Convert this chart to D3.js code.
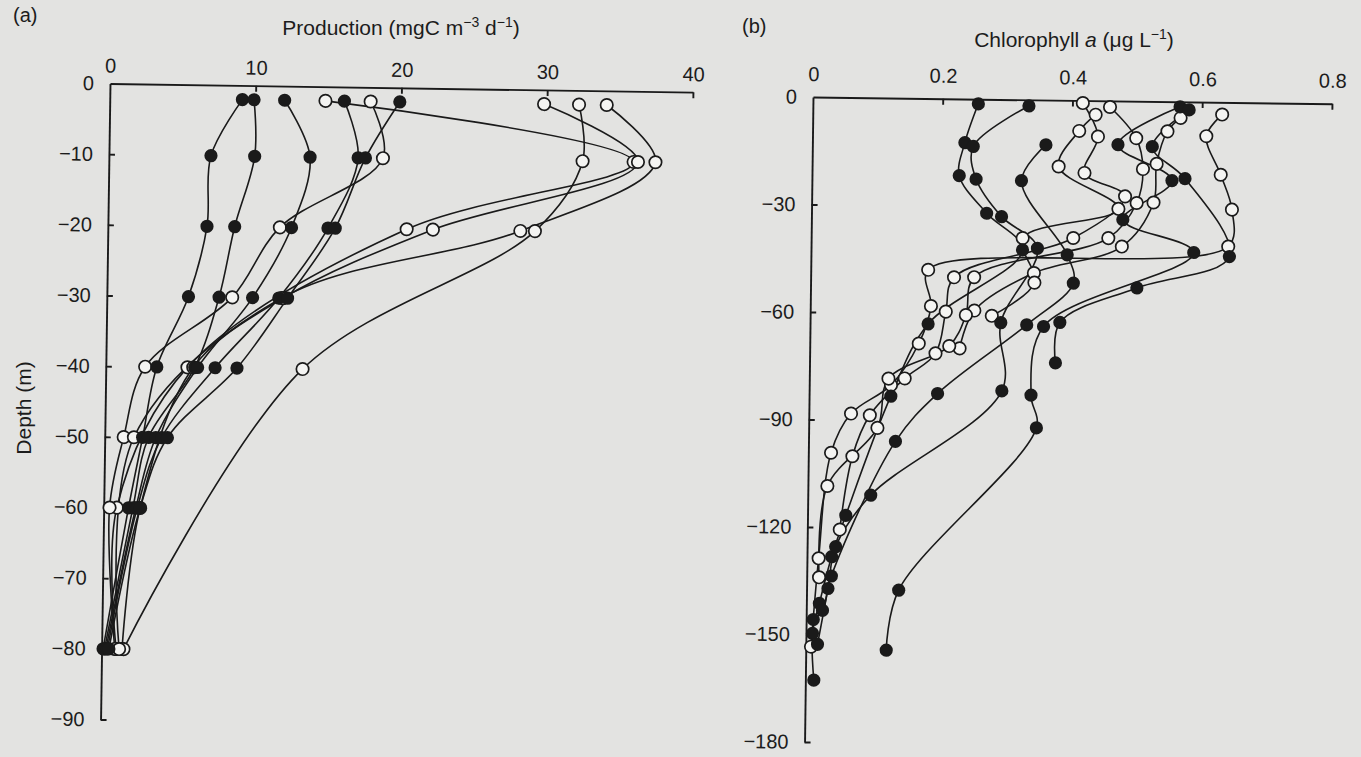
<!DOCTYPE html>
<html>
<head>
<meta charset="utf-8">
<script src="https://cdn.jsdelivr.net/npm/d3@7"></script>
<style>
  body { margin: 0; background: #e3e3e1; }
  svg text { font-family: "Liberation Sans", Arial, Helvetica, sans-serif; fill: #1c1c1c; }
</style>
</head>
<body>
<div id="chart"></div>
<script>
// ---- data: [depth (m), value] ----
// (a) production, mgC m-3 d-1
const prodFilled = [
  [[-2, 9.1], [-10, 7.0], [-20, 6.8], [-30, 5.6], [-40, 3.5], [-50, 2.6], [-60, 1.7], [-80, 0.1]],
  [[-2, 9.9], [-10, 10.0], [-20, 8.7], [-30, 7.7], [-40, 6.1], [-50, 3.0], [-60, 2.0], [-80, 0.2]],
  [[-2, 12.0], [-10, 13.8], [-20, 12.6], [-30, 10.0], [-40, 6.3], [-50, 3.5], [-60, 2.2], [-80, 0.3]],
  [[-2, 16.1], [-10, 17.1], [-20, 15.1], [-30, 11.8], [-40, 7.5], [-50, 3.9], [-60, 2.3], [-80, 0.4]],
  [[-2, 19.9], [-10, 17.6], [-20, 15.6], [-30, 12.4], [-40, 9.0], [-50, 4.3], [-60, 2.5], [-80, 0.5]]
];
const prodOpen = [
  [[-2, 14.8], [-10, 36.0], [-20, 20.5], [-40, 5.6], [-60, 0.9], [-80, 1.0]],
  [[-2, 17.9], [-10, 18.8], [-20, 11.8], [-30, 8.6], [-40, 2.7], [-50, 1.3], [-60, 0.4], [-80, 0.9]],
  [[-2, 29.8], [-10, 36.3], [-20, 22.3], [-30, 12.1], [-40, 6.0], [-60, 2.5], [-80, 1.4]],
  [[-2, 32.2], [-10, 32.5], [-20, 29.3], [-40, 13.5], [-80, 1.5]],
  [[-2, 34.1], [-10, 37.5], [-20, 28.3], [-30, 12.0], [-50, 2.0], [-80, 1.2]]
];
const prodTicks = [0, 10, 20, 30, 40];
const prodDepthTicks = [0, -10, -20, -30, -40, -50, -60, -70, -80, -90];

// (b) chlorophyll a, ug L-1
const chlFilled = [
  [[-1.3, 0.255], [-12.2, 0.235], [-21.4, 0.227], [-31.8, 0.270], [-41.9, 0.326], [-62.9, 0.182], [-83.2, 0.126], [-116.6, 0.059], [-128.2, 0.038], [-141.3, 0.020], [-149.7, 0.010], [-162.7, 0.013]],
  [[-1.7, 0.333], [-13.2, 0.248], [-22.3, 0.253], [-32.7, 0.293], [-41.4, 0.349], [-62.3, 0.294], [-81.3, 0.297], [-110.9, 0.097], [-125.4, 0.044], [-137.1, 0.033], [-152.7, 0.018]],
  [[-12.5, 0.360], [-22.6, 0.323], [-43.1, 0.395], [-51.0, 0.405], [-62.8, 0.334], [-82.3, 0.198], [-95.8, 0.134], [-133.6, 0.038], [-143.2, 0.025], [-145.8, 0.011]],
  [[-1.4, 0.566], [-12.2, 0.471], [-22.0, 0.555], [-33.1, 0.480], [-42.0, 0.590], [-63.2, 0.360], [-82.4, 0.342], [-91.5, 0.351], [-137.3, 0.142], [-154.1, 0.124]],
  [[-2.2, 0.580], [-12.6, 0.524], [-21.4, 0.575], [-43.0, 0.645], [-52.1, 0.503], [-62.0, 0.385], [-73.3, 0.379]]
];
const chlOpen = [
  [[-3.4, 0.631], [-9.5, 0.607], [-20.2, 0.630], [-29.9, 0.648], [-40.2, 0.643], [-47.8, 0.181], [-57.9, 0.186], [-68.4, 0.168], [-80.1, 0.126], [-88.2, 0.065], [-99.2, 0.035], [-128.7, 0.018], [-153.4, 0.008]],
  [[-4.5, 0.567], [-8.3, 0.547], [-17.4, 0.531], [-28.2, 0.527], [-40.6, 0.479], [-48.3, 0.344], [-59.0, 0.253], [-69.6, 0.231]],
  [[-1.7, 0.458], [-10.3, 0.499], [-18.9, 0.510], [-28.4, 0.501], [-38.3, 0.458], [-49.7, 0.252], [-60.3, 0.240], [-69.0, 0.215], [-78.3, 0.122], [-92.1, 0.106], [-108.5, 0.030], [-134.0, 0.019]],
  [[-0.7, 0.416], [-10.0, 0.440], [-20.2, 0.420], [-26.6, 0.483], [-38.4, 0.404], [-49.8, 0.221], [-59.4, 0.209], [-71.1, 0.194], [-78.2, 0.147], [-88.6, 0.094], [-100.1, 0.068], [-120.6, 0.050]],
  [[-3.9, 0.436], [-8.5, 0.411], [-18.5, 0.380], [-30.1, 0.473], [-38.6, 0.326], [-51.0, 0.345], [-60.4, 0.280]]
];
const chlTicks = [0, 0.2, 0.4, 0.6, 0.8];
const chlDepthTicks = [0, -30, -60, -90, -120, -150, -180];

const W = 1361, H = 757;
const ink = '#1a1a1a';

const svg = d3.select('#chart')
  .append('svg')
  .attr('width', W)
  .attr('height', H)

function drawPanel(o) {
  const g = svg.append('g')
    .attr('transform', `translate(${o.ox},${o.oy}) rotate(${o.angle})`)

  const x = d3.scaleLinear().domain([0, o.xMax]).range([0, o.w])
  const y = d3.scaleLinear().domain([0, o.yMin]).range([0, o.h])

  const xAxis = g.append('g')
    .call(d3.axisTop(x).tickValues(o.xTicks).tickSizeInner(-6).tickSizeOuter(0)
      .tickPadding(o.xPad).tickFormat(o.xFmt))
  const yAxis = g.append('g')
    .call(d3.axisLeft(y).tickValues(o.yTicks).tickSizeInner(-6).tickSizeOuter(0)
      .tickPadding(16).tickFormat(d3.format('d')))

  g.selectAll('.domain, .tick line').attr('stroke', ink).attr('stroke-width', 1.9)
  g.selectAll('.tick text').attr('font-size', 20).attr('fill', ink)
    .attr('font-family', '"Liberation Sans", Arial, sans-serif')
  // the zero ticks sit on the corner
  xAxis.selectAll('.tick').filter(d => d === 0).select('line').remove()
  yAxis.selectAll('.tick').filter(d => d === 0).select('line').remove()

  const line = d3.line()
    .x(d => x(d[1]))
    .y(d => y(d[0]))
    .curve(d3.curveCatmullRom.alpha(0.5))

  g.selectAll('.profile')
    .data(o.filled.concat(o.open))
    .enter()
    .append('path')
    .attr('d', line)
    .attr('fill', 'none')
    .attr('stroke', ink)
    .attr('stroke-width', 1.6)

  g.selectAll('.open')
    .data(o.open.flat())
    .enter()
    .append('circle')
    .attr('cx', d => x(d[1]))
    .attr('cy', d => y(d[0]))
    .attr('r', 6.2)
    .attr('fill', '#f4f4f2')
    .attr('stroke', ink)
    .attr('stroke-width', 1.7)

  g.selectAll('.filled')
    .data(o.filled.flat())
    .enter()
    .append('circle')
    .attr('cx', d => x(d[1]))
    .attr('cy', d => y(d[0]))
    .attr('r', 6.6)
    .attr('fill', ink)

  return g
}

drawPanel({
  ox: 110, oy: 83.5, angle: 0.85, w: 583, h: 636, xMax: 40, yMin: -90,
  xTicks: prodTicks, yTicks: prodDepthTicks, xPad: 11, xFmt: d3.format('d'),
  filled: prodFilled, open: prodOpen
})

drawPanel({
  ox: 813, oy: 97, angle: 0.75, w: 519, h: 645, xMax: 0.8, yMin: -180,
  xTicks: chlTicks, yTicks: chlDepthTicks, xPad: 16,
  xFmt: d => d === 0 ? '0' : d3.format('.1f')(d),
  filled: chlFilled, open: chlOpen
})

// titles
svg.append('text').attr('x', 13).attr('y', 22).attr('font-size', 20).text('(a)')
svg.append('text').attr('x', 742).attr('y', 33).attr('font-size', 20).text('(b)')

const ta = svg.append('text').attr('x', 401).attr('y', 35).attr('font-size', 21)
  .attr('text-anchor', 'middle')
ta.append('tspan').text('Production (mgC m')
ta.append('tspan').attr('dy', -8).attr('font-size', 14).text('\u22123')
ta.append('tspan').attr('dy', 8).text(' d')
ta.append('tspan').attr('dy', -8).attr('font-size', 14).text('\u22121')
ta.append('tspan').attr('dy', 8).text(')')

const tb = svg.append('text').attr('x', 1074).attr('y', 47).attr('font-size', 21)
  .attr('text-anchor', 'middle')
tb.append('tspan').text('Chlorophyll ')
tb.append('tspan').attr('font-style', 'italic').text('a')
tb.append('tspan').text(' (\u03bcg L')
tb.append('tspan').attr('dy', -8).attr('font-size', 14).text('\u22121')
tb.append('tspan').attr('dy', 8).text(')')

svg.append('text')
  .attr('transform', 'translate(31,408) rotate(-90)')
  .attr('text-anchor', 'middle')
  .attr('font-size', 21)
  .text('Depth (m)')
</script>
</body>
</html>
